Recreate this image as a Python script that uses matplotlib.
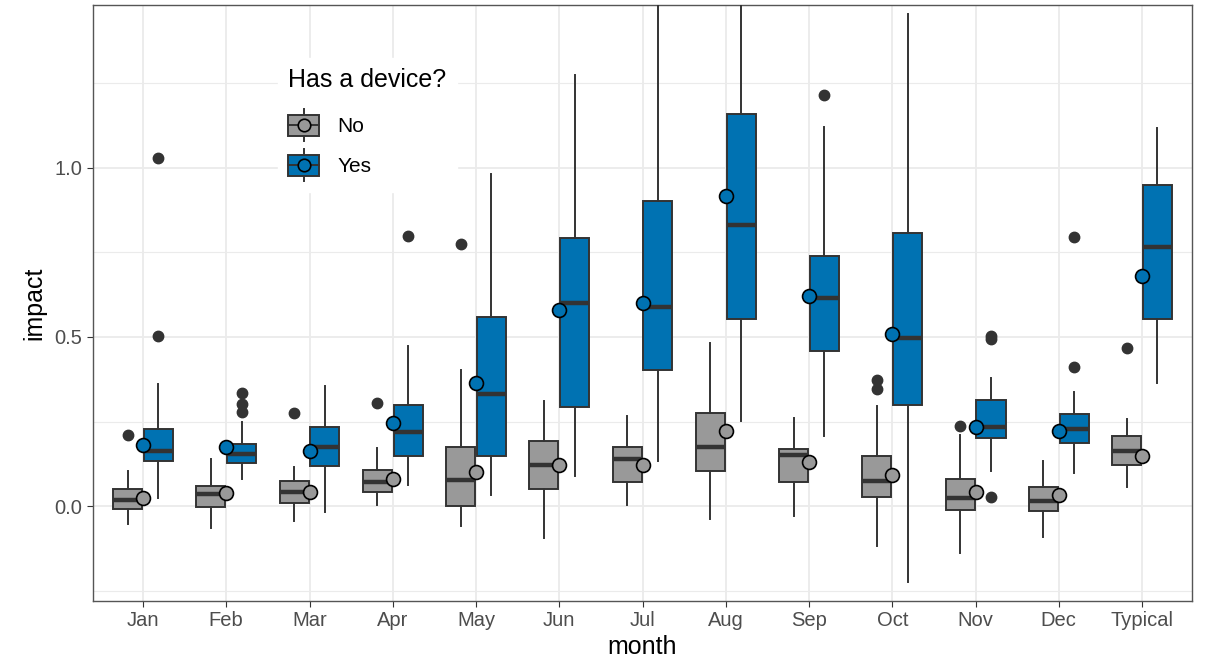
import numpy as np
import matplotlib.pyplot as plt
from matplotlib.patches import Patch, Rectangle
from matplotlib.lines import Line2D

plt.rcParams['font.family'] = ['Liberation Sans', 'DejaVu Sans']

months = ["Jan", "Feb", "Mar", "Apr", "May", "Jun", "Jul", "Aug", "Sep", "Oct", "Nov", "Dec", "Typical"]

# No device: whisker low, q1, median, q3, whisker high, mean
no_whislo = [-0.053, -0.065, -0.044, 0.003, -0.060, -0.096, 0.002, -0.037, -0.030, -0.117, -0.140, -0.092, 0.056]
no_q1     = [-0.010, -0.004, 0.008, 0.042, 0.000, 0.050, 0.072, 0.104, 0.072, 0.028, -0.011, -0.014, 0.121]
no_med    = [0.019, 0.035, 0.042, 0.072, 0.077, 0.120, 0.140, 0.174, 0.152, 0.075, 0.024, 0.016, 0.162]
no_q3     = [0.050, 0.058, 0.074, 0.108, 0.175, 0.191, 0.174, 0.276, 0.170, 0.149, 0.081, 0.056, 0.206]
no_whishi = [0.105, 0.139, 0.116, 0.172, 0.403, 0.311, 0.265, 0.483, 0.260, 0.296, 0.209, 0.132, 0.257]
no_mean   = [0.023, 0.040, 0.042, 0.081, 0.100, 0.122, 0.121, 0.222, 0.131, 0.093, 0.042, 0.034, 0.147]
no_fliers = [[0.21], [], [0.274], [0.305], [0.775], [], [], [], [], [0.373, 0.347], [0.238], [], [0.468]]

# Has device
yes_whislo = [0.023, 0.079, -0.018, 0.061, 0.032, 0.090, 0.132, 0.251, 0.206, -0.226, 0.103, 0.098, 0.364]
yes_q1     = [0.132, 0.127, 0.117, 0.149, 0.149, 0.294, 0.402, 0.554, 0.460, 0.300, 0.200, 0.185, 0.552]
yes_med    = [0.162, 0.153, 0.176, 0.218, 0.331, 0.602, 0.588, 0.830, 0.615, 0.498, 0.235, 0.229, 0.766]
yes_q3     = [0.227, 0.183, 0.234, 0.298, 0.558, 0.794, 0.902, 1.161, 0.741, 0.808, 0.315, 0.271, 0.950]
yes_whishi = [0.361, 0.250, 0.354, 0.474, 0.982, 1.275, 1.600, 1.700, 1.122, 1.455, 0.380, 0.336, 1.119]
yes_mean   = [0.180, 0.174, 0.163, 0.247, 0.364, 0.581, 0.600, 0.916, 0.621, 0.509, 0.235, 0.222, 0.681]
yes_fliers = [[0.503, 1.03], [0.335, 0.301, 0.279], [], [0.80], [], [], [], [], [1.216], [], [0.502, 0.493, 0.028], [0.797, 0.411], []]

grey_fill = "#999999"
blue_fill = "#0072B2"
edge = "#333333"


def make_stats(lo, q1, med, q3, hi, mean, fl):
    out = []
    for i in range(len(lo)):
        out.append(dict(whislo=lo[i], q1=q1[i], med=med[i], q3=q3[i], whishi=hi[i],
                        mean=mean[i], fliers=fl[i]))
    return out


class BoxKey:
    # legend key drawn like a little boxplot with the mean dot
    def legend_artist(self, legend, orig_handle, fontsize, handlebox):
        w, h = handlebox.width, handlebox.height
        x0, y0 = -handlebox.xdescent, -handlebox.ydescent
        cx, cy = x0 + w / 2, y0 + h / 2
        bh = 0.64 * h
        fc = orig_handle.get_facecolor()
        tr = handlebox.get_transform()
        wl = Line2D([cx, cx], [y0, y0 + h], color=edge, lw=1.4, transform=tr)
        rect = Rectangle((x0, cy - bh / 2), w, bh, facecolor=fc, edgecolor=edge, lw=1.4, transform=tr)
        med = Line2D([x0, x0 + w], [cy, cy], color=edge, lw=1.4, transform=tr)
        dot = Line2D([cx], [cy], marker='o', markersize=9, markerfacecolor=fc,
                     markeredgecolor='black', markeredgewidth=1.2, transform=tr)
        for a in (wl, rect, med, dot):
            handlebox.add_artist(a)
        return rect


fig = plt.figure(figsize=(12.13, 6.65), dpi=100)
ax = fig.add_axes([0.0767, 0.0962, 0.906, 0.8963])

x = np.arange(1, len(months) + 1)
off = 0.185
w = 0.35

for stats, pos, fill in [(make_stats(no_whislo, no_q1, no_med, no_q3, no_whishi, no_mean, no_fliers), x - off, grey_fill),
                         (make_stats(yes_whislo, yes_q1, yes_med, yes_q3, yes_whishi, yes_mean, yes_fliers), x + off, blue_fill)]:
    ax.bxp(stats, positions=pos, widths=w, patch_artist=True, showcaps=False, showmeans=False,
           boxprops=dict(facecolor=fill, edgecolor=edge, linewidth=1.4),
           medianprops=dict(color=edge, linewidth=3.2, solid_capstyle='butt'),
           whiskerprops=dict(color=edge, linewidth=1.4),
           flierprops=dict(marker='o', markerfacecolor=edge, markeredgecolor=edge, markersize=7.5),
           zorder=3)

ax.scatter(x, no_mean, s=100, facecolor=grey_fill, edgecolor='black', linewidth=1.2, zorder=5)
ax.scatter(x, yes_mean, s=100, facecolor=blue_fill, edgecolor='black', linewidth=1.2, zorder=5)

ax.set_xlim(0.4, 13.6)
ax.set_ylim(-0.281, 1.482)
ax.set_xticks(x)
ax.set_xticklabels(months)
ax.set_yticks([0.0, 0.5, 1.0])
ax.set_yticklabels(["0.0", "0.5", "1.0"])
ax.set_yticks([-0.25, 0.25, 0.75, 1.25], minor=True)
ax.grid(True, which='major', color='#EBEBEB', linewidth=1.3, zorder=0)
ax.grid(True, which='minor', axis='y', color='#EBEBEB', linewidth=0.8, zorder=0)
ax.set_axisbelow(True)
ax.tick_params(axis='both', which='major', colors='#333333', labelcolor='#4D4D4D', labelsize=14.5, length=4)
ax.tick_params(axis='both', which='minor', length=0)
for s in ax.spines.values():
    s.set_color('#555555')
    s.set_linewidth(1.0)
ax.set_xlabel("month", fontsize=18, labelpad=3)
ax.set_ylabel("impact", fontsize=18, labelpad=6)

handles = [Patch(facecolor=grey_fill), Patch(facecolor=blue_fill)]
leg = ax.legend(handles, ["No", "Yes"], title="Has a device?", loc='upper left',
                bbox_to_anchor=(0.168, 0.911), handler_map={Patch: BoxKey()},
                frameon=True, fancybox=False, edgecolor='white', framealpha=1.0,
                fontsize=15, title_fontsize=18, handlelength=1.5, handleheight=2.0,
                labelspacing=0.38, handletextpad=0.85, borderpad=0.5, borderaxespad=0)
leg._legend_box.align = "left"
leg._legend_box.sep = 12

fig.savefig("out.png", dpi=100)
